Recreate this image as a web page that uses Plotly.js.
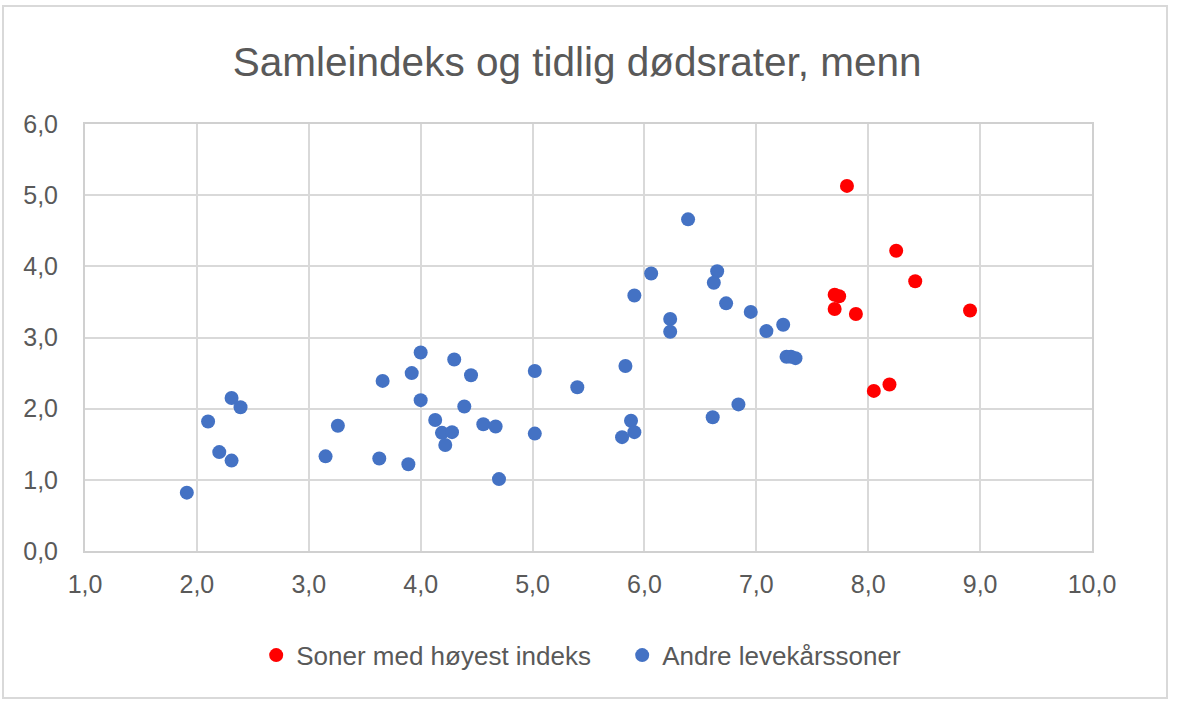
<!DOCTYPE html>
<html>
<head>
<meta charset="utf-8">
<script src="https://cdn.plot.ly/plotly-3.0.1.min.js"></script>
<style>
  html, body { margin: 0; padding: 0; background: #ffffff; }
  #wrap { position: relative; width: 1178px; height: 707px; }
  #chart { width: 1178px; height: 707px; }
  #frame { position: absolute; left: 2px; top: 5px; width: 1166px; height: 694px;
           border: 2px solid #d9d9d9; box-sizing: border-box; pointer-events: none; }
</style>
</head>
<body>
<div id="wrap">
  <div id="chart"></div>
  <div id="frame"></div>
</div>
<script>
// Soner med høyest indeks (red)
const highX = [7.81, 8.25, 8.42, 8.91, 7.70, 7.74, 7.70, 7.89, 8.05, 8.19];
const highY = [5.13, 4.22, 3.79, 3.38, 3.60, 3.58, 3.40, 3.33, 2.25, 2.34];

// Andre levekårssoner (blue)
const otherX = [1.91, 2.10, 2.31, 2.39, 2.20, 2.31, 3.15, 3.26, 3.63, 3.89,
                3.66, 3.92, 4.00, 4.00, 4.30, 4.45, 4.39, 4.13, 4.19, 4.28,
                4.22, 4.56, 4.67, 4.70, 5.02, 5.02, 5.40, 5.83, 5.88, 5.91,
                5.80, 6.23, 6.23, 6.39, 6.06, 5.91, 6.65, 6.62, 6.73, 6.95,
                7.09, 7.24, 7.27, 7.31, 7.35, 6.84, 6.61];
const otherY = [0.82, 1.82, 2.15, 2.02, 1.39, 1.27, 1.33, 1.76, 1.30, 1.22,
                2.39, 2.50, 2.79, 2.12, 2.69, 2.47, 2.03, 1.84, 1.66, 1.67,
                1.49, 1.78, 1.75, 1.01, 2.53, 1.65, 2.30, 2.60, 1.83, 1.67,
                1.60, 3.26, 3.08, 4.66, 3.90, 3.59, 3.93, 3.77, 3.48, 3.36,
                3.09, 3.18, 2.73, 2.73, 2.71, 2.06, 1.88];

const seriesNames = ["Soner med høyest indeks", "Andre levekårssoner"];
const titleText = "Samleindeks og tidlig dødsrater, menn";
const xTicks = [1, 2, 3, 4, 5, 6, 7, 8, 9, 10];
const yTicks = [0, 1, 2, 3, 4, 5, 6];

const FONT = "Liberation Sans, Arial, sans-serif";
const TXT = "#595959";

const traces = [
  { x: highX, y: highY, mode: "markers", type: "scatter", name: seriesNames[0],
    marker: { color: "#ff0000", size: 14, line: { width: 0 } } },
  { x: otherX, y: otherY, mode: "markers", type: "scatter", name: seriesNames[1],
    marker: { color: "#4472c4", size: 14, line: { width: 0 } } }
];

const layout = {
  width: 1178, height: 707,
  paper_bgcolor: "rgba(0,0,0,0)", plot_bgcolor: "#ffffff",
  separators: ", ",
  margin: { l: 85, r: 86, t: 124, b: 156, pad: 0 },
  title: { text: titleText, x: 0.49, xanchor: "center", y: 0.912, yanchor: "middle",
           font: { family: FONT, size: 40.5, color: TXT } },
  font: { family: FONT, color: TXT },
  xaxis: {
    range: [1, 10], tickvals: xTicks, tickformat: ".1f",
    showgrid: true, gridcolor: "#d9d9d9", gridwidth: 2,
    zeroline: false, showline: true, mirror: true, linecolor: "#d0d0d0", linewidth: 2,
    ticks: "", ticklabelstandoff: 10,
    tickfont: { family: FONT, size: 25, color: TXT }, fixedrange: true
  },
  yaxis: {
    range: [0, 6], tickvals: yTicks, tickformat: ".1f",
    showgrid: true, gridcolor: "#d9d9d9", gridwidth: 2,
    zeroline: false, showline: true, mirror: true, linecolor: "#d0d0d0", linewidth: 2,
    ticks: "", ticklabelstandoff: 20,
    tickfont: { family: FONT, size: 25, color: TXT }, fixedrange: true
  },
  showlegend: true,
  legend: { orientation: "h", x: 0.170, xanchor: "left", y: -0.244, yanchor: "middle",
            entrywidth: 321, entrywidthmode: "pixels",
            font: { family: FONT, size: 26, color: TXT }, itemclick: false,
            bgcolor: "rgba(0,0,0,0)" }
};

Plotly.newPlot("chart", traces, layout, { displayModeBar: false, staticPlot: true });
</script>
</body>
</html>
